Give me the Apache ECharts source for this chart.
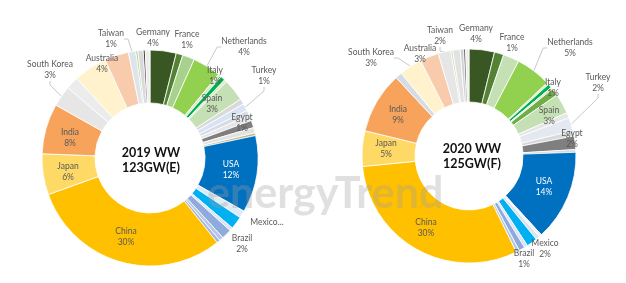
<!DOCTYPE html>
<html><head><meta charset="utf-8">
<script src="https://cdn.jsdelivr.net/npm/echarts@6/dist/echarts.min.js"></script>
<style>html,body{margin:0;padding:0;background:#fff}#c{width:626px;height:283px}</style>
</head><body><div id="c"></div>
<script>
// ---------- 2019 (share of worldwide installations, %) ----------
const names2019 = ['Germany','France','Other 1','Netherlands','Other 2','Italy','Other 3','Spain','Other 4','Turkey','Other 5','Other 6','Egypt','Other 7','Other 8','USA','Other 9','Mexico','Other 10','Brazil','Other 11','Other 12','China','Japan','India','South Korea','Other 13','Other 14','Australia','Taiwan','Other 15','Other 16','Other 17','Other 18'];
const values2019 = [3.9,1.0,1.8,4.2,0.5,0.7,0.4,3.3,0.8,1.1,0.8,0.8,1.1,0.8,0.4,11.5,1.1,1.9,0.5,1.5,0.6,0.5,30.1,6.1,7.5,3.1,1.9,5.0,3.6,1.1,0.3,0.8,0.3,0.7];
const labeled2019 = ['Taiwan','Germany','France','Netherlands','Italy','Turkey','Spain','Egypt','USA','Mexico','Brazil','China','Japan','India','South Korea','Australia'];

// ---------- 2020 ----------
const names2020 = ['Germany','France','Other 1','Netherlands','Other 2','Italy','Other 3','Other 4','Spain','Other 5','Turkey','Other 6','Egypt','Other 7','USA','Other 8','Other 9','Mexico','Other 10','Brazil','Other 11','China','Japan','India','Other 12','South Korea','Australia','Taiwan','Other 13','Other 14','Other 15','Other 16','Other 17'];
const values2020 = [3.8,1.4,2.4,5.3,0.3,0.6,0.3,1.1,3.0,0.8,2.0,0.8,2.0,0.4,13.6,0.4,0.6,1.6,0.5,0.9,0.5,30.4,5.3,9.2,1.0,3.4,2.8,1.9,0.3,1.1,0.5,0.3,0.5];
const labeled2020 = ['Taiwan','Germany','France','Netherlands','Italy','Turkey','Spain','Egypt','USA','Mexico','Brazil','China','Japan','India','South Korea','Australia'];

const centerText2019 = '2019 WW\n123GW(E)';
const centerText2020 = '2020 WW\n125GW(F)';

// ---------- styles (kept apart from the data) ----------
const colors2019 = ['#385723','#548235','#a9d18e','#92d050','#d8ecc8','#00b050','#d8ecc8','#c5e0b4','#d9d9d9','#dae3f3','#d6dce5','#e7e6e6','#7f7f7f','#e2e2e2','#bdbd86','#0070c0','#deebf7','#00b0f0','#dae3f3','#8faadc','#b4c7e7','#a3b7e0','#ffc000','#ffd966','#f7a35c','#e7e6e6','#ececec','#fff2cc','#f8cbad','#dfe4ec','#a9d18e','#d9d9d9','#3a3a3a','#ededed'];
const colors2020 = ['#385723','#548235','#c5e0b4','#92d050','#d8ecc8','#00b050','#d8ecc8','#70ad47','#c5e0b4','#e7e6e6','#e4e9f1','#d9d9d9','#7f7f7f','#d9d9d9','#0070c0','#f2f2f2','#dae3f3','#00b0f0','#dae3f3','#8faadc','#b4c7e7','#ffc000','#ffd966','#f7a35c','#d6dce5','#fff2cc','#f8cbad','#e7e6e6','#c5e0b4','#e2e2e2','#d0d0d0','#595959','#ededed'];
const labelAt2019 = {Taiwan:[111,39],Germany:[153,38],France:[187,40],Netherlands:[244,47],Italy:[215,76],Turkey:[264,76],Spain:[212,104],Egypt:[242,123],USA:[231,170],Mexico:[267,222],Brazil:[242,244],China:[126,237],Japan:[68,172],India:[70,138],'South Korea':[50,70],Australia:[102,64]};
const labelAt2020 = {Taiwan:[440,36],Germany:[476,34],France:[512,43],Netherlands:[570,48],Italy:[553,88],Turkey:[598,83],Spain:[549,116],Egypt:[572,139],USA:[544,187],Mexico:[545,249],Brazil:[524,259],China:[426,228],Japan:[386,149],India:[398,115],'South Korea':[371,58],Australia:[420,54]};
const withLine = ['Taiwan','South Korea','Netherlands','Turkey'];
const shortText = {Mexico2019:'Mexico...'};

function build(names, values, colors, labeled, year) {
  return names.map((n, i) => {
    const show = labeled.indexOf(n) >= 0;
    const line = show && withLine.indexOf(n) >= 0;
    return {
      name: n, value: values[i],
      itemStyle: {color: colors[i]},
      label: {show: show, position: line ? 'outside' : 'inside',
              color: n === 'USA' ? '#ffffff' : '#595959',
              formatter: (p) => shortText[p.name + year] || (p.name + '\n' + Math.round(p.value) + '%')},
      labelLine: {show: line, length: 4, length2: 4, lineStyle: {color: '#c8c8c8', width: 1}}
    };
  });
}

const chart = echarts.init(document.getElementById('c'), null, {renderer: 'canvas'});
const posTables = [labelAt2019, labelAt2020];
const nameTables = [names2019, names2020];
function layoutFn(p) {
  const nm = nameTables[p.seriesIndex][p.dataIndex];
  const xy = posTables[p.seriesIndex][nm];
  if (!xy) return {};
  return {x: xy[0], y: xy[1], align: 'center', verticalAlign: 'middle'};
}
const common = {
  type: 'pie', startAngle: 90, clockwise: true, avoidLabelOverlap: false,
  animation: false, silent: true,
  itemStyle: {borderColor: '#ffffff', borderWidth: 0.8},
  label: {fontFamily: 'Lato', fontSize: 8.5, lineHeight: 11},
  labelLayout: layoutFn
};
chart.setOption({
  backgroundColor: '#ffffff',
  series: [
    Object.assign({}, common, {center: [150, 158], radius: [55, 108], data: build(names2019, values2019, colors2019, labeled2019, '2019')}),
    Object.assign({}, common, {center: [469, 156], radius: [54, 107], data: build(names2020, values2020, colors2020, labeled2020, '2020')})
  ],
  graphic: [
    {type: 'text', x: 151, y: 160, z: 10, style: {text: centerText2019, align: 'center', verticalAlign: 'middle', font: 'bold 12.5px Lato', lineHeight: 15, fill: '#111'}},
    {type: 'text', x: 472, y: 156, z: 10, style: {text: centerText2020, align: 'center', verticalAlign: 'middle', font: 'bold 12.5px Lato', lineHeight: 15, fill: '#111'}},
    {type: 'text', x: 207, y: 173, z: 20, style: {text: 'energyTrend', align: 'left', verticalAlign: 'alphabetic', font: 'bold 43px Lato', fill: 'rgba(160,160,160,0.32)'}}
  ]
});
</script></body></html>
